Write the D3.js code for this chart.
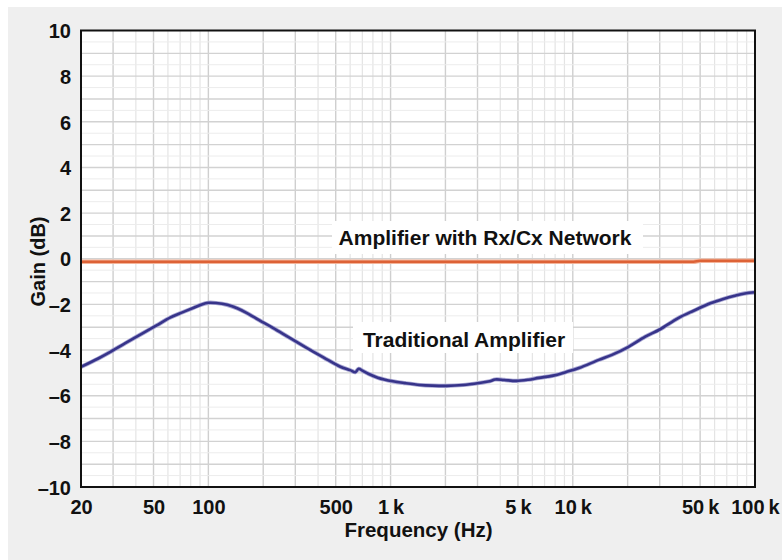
<!DOCTYPE html>
<html>
<head>
<meta charset="utf-8">
<script src="https://cdn.jsdelivr.net/npm/d3@7"></script>
<style>
  html, body { margin: 0; padding: 0; background: #ffffff; }
  svg { display: block; }
  text { font-family: "Liberation Sans", Arial, Helvetica, sans-serif; font-weight: bold; fill: #111; }
</style>
</head>
<body>
<svg id="chart" width="782" height="560"></svg>
<script>
// ---- data ----
const xTickValues = [20, 50, 100, 500, 1000, 5000, 10000, 50000, 100000];
const xTickLabels = ["20", "50", "100", "500", "1\u2009k", "5\u2009k", "10\u2009k", "50\u2009k", "100\u2009k"];
const yTickValues = [10, 8, 6, 4, 2, 0, -2, -4, -6, -8, -10];
const yTickLabels = ["10", "8", "6", "4", "2", "0", "\u20132", "\u20134", "\u20136", "\u20138", "\u201310"];

const tradFreq = [20, 25, 29, 35, 44, 52, 62, 72, 83, 92, 100, 110, 127, 145, 162, 190, 226, 280, 346, 430, 527, 600, 640, 668, 700, 760, 850, 1030, 1200, 1450, 1700, 2030, 2500, 3080, 3500, 3750, 4200, 4900, 5700, 6500, 7800, 9200, 10800, 13900, 16400, 20000, 25000, 30000, 37900, 46000, 57400, 67000, 77500, 88000, 100000];
const tradGain = [-4.74, -4.36, -4.08, -3.70, -3.25, -2.92, -2.57, -2.35, -2.15, -2.00, -1.93, -1.94, -2.02, -2.18, -2.37, -2.69, -3.03, -3.47, -3.90, -4.33, -4.72, -4.88, -4.97, -4.82, -4.90, -5.05, -5.21, -5.37, -5.45, -5.53, -5.56, -5.57, -5.53, -5.44, -5.37, -5.29, -5.31, -5.35, -5.30, -5.22, -5.12, -4.96, -4.79, -4.43, -4.21, -3.88, -3.41, -3.10, -2.60, -2.28, -1.94, -1.76, -1.62, -1.52, -1.47];

const rxFreq = [20, 1000, 10000, 46000, 50000, 100000];
const rxGain = [-0.13, -0.13, -0.13, -0.13, -0.09, -0.09];

const labelRx = "Amplifier with Rx/Cx Network";
const labelTrad = "Traditional Amplifier";

// ---- layout ----
const svg = d3.select("#chart");
const L = 81, R = 755, T = 30.5, B = 487;

svg.append("rect").attr("x", 8).attr("y", 7).attr("width", 774).attr("height", 553).attr("fill", "#efefef");
svg.append("rect").attr("x", L).attr("y", T).attr("width", R - L).attr("height", B - T).attr("fill", "#ffffff");

const x = d3.scaleLog().domain([20, 100000]).range([L, R]);
const y = d3.scaleLinear().domain([-10, 10]).range([B, T]);

// grid
const grid = svg.append("g");
const minorX = [], majorX = [];
for (let dec = 10; dec <= 100000; dec *= 10) {
  for (let m = 1; m <= 9; m++) {
    const v = dec * m;
    if (v <= 20 || v >= 100000) continue;
    if ([1, 2, 3, 5].includes(m)) majorX.push(v); else minorX.push(v);
  }
}
grid.selectAll("line.mx").data(minorX).join("line")
  .attr("x1", d => x(d)).attr("x2", d => x(d)).attr("y1", T).attr("y2", B)
  .attr("stroke", "#e4e4e4").attr("stroke-width", 1.2);
grid.selectAll("line.Mx").data(majorX).join("line")
  .attr("x1", d => x(d)).attr("x2", d => x(d)).attr("y1", T).attr("y2", B)
  .attr("stroke", "#cfcfcf").attr("stroke-width", 1.4);
const halfY = d3.range(-9.5, 10, 1);
grid.selectAll("line.hy").data(halfY).join("line")
  .attr("x1", L).attr("x2", R).attr("y1", d => y(d)).attr("y2", d => y(d))
  .attr("stroke", "#ececec").attr("stroke-width", 1);
const fullY = d3.range(-9, 10, 1);
grid.selectAll("line.fy").data(fullY).join("line")
  .attr("x1", L).attr("x2", R).attr("y1", d => y(d)).attr("y2", d => y(d))
  .attr("stroke", "#d2d2d2").attr("stroke-width", 1.4);

// label backgrounds
svg.append("rect").attr("x", 332).attr("y", 221).attr("width", 311).attr("height", 33).attr("fill", "#ffffff");
svg.append("rect").attr("x", 353).attr("y", 322).attr("width", 220).attr("height", 31).attr("fill", "#ffffff");

// lines
const lineGen = d3.line().x(d => x(d[0])).y(d => y(d[1])).curve(d3.curveCatmullRom.alpha(0.5));
const rxLine = d3.line().x(d => x(d[0])).y(d => y(d[1])).curve(d3.curveMonotoneX);

svg.append("path").datum(d3.zip(rxFreq, rxGain)).attr("d", rxLine)
  .attr("fill", "none").attr("stroke", "#f3b49a").attr("stroke-width", 4.5);
svg.append("path").datum(d3.zip(rxFreq, rxGain)).attr("d", rxLine)
  .attr("fill", "none").attr("stroke", "#dd6236").attr("stroke-width", 2.6);

svg.append("path").datum(d3.zip(tradFreq, tradGain)).attr("d", lineGen)
  .attr("fill", "none").attr("stroke", "#a9a7d3").attr("stroke-width", 4.2).attr("stroke-linejoin", "round");
svg.append("path").datum(d3.zip(tradFreq, tradGain)).attr("d", lineGen)
  .attr("fill", "none").attr("stroke", "#37348a").attr("stroke-width", 2.6).attr("stroke-linejoin", "round");

// frame
svg.append("rect").attr("x", L).attr("y", T).attr("width", R - L).attr("height", B - T)
  .attr("fill", "none").attr("stroke", "#111").attr("stroke-width", 2);

// axes labels
const xAxis = d3.axisBottom(x).tickValues(xTickValues).tickFormat((d, i) => xTickLabels[i]).tickSize(0).tickPadding(0);
const gx = svg.append("g").attr("transform", `translate(0,${B})`).call(xAxis);
gx.select(".domain").remove();
gx.selectAll("text").attr("y", 27).attr("dy", null).style("font-size", "20px")
  .style("font-family", '"Liberation Sans", Arial, sans-serif').style("font-weight", "bold").attr("fill", "#111");

const yAxis = d3.axisLeft(y).tickValues(yTickValues).tickFormat((d, i) => yTickLabels[i]).tickSize(0).tickPadding(10);
const gy = svg.append("g").attr("transform", `translate(${L},0)`).call(yAxis);
gy.select(".domain").remove();
gy.selectAll("text").attr("dy", "0.36em").style("font-size", "20px")
  .style("font-family", '"Liberation Sans", Arial, sans-serif').style("font-weight", "bold").attr("fill", "#111");

svg.append("text").attr("x", 418.5).attr("y", 537).attr("text-anchor", "middle")
  .style("font-size", "20.5px").text("Frequency (Hz)");
svg.append("text").attr("transform", "translate(44.5,261.5) rotate(-90)").attr("text-anchor", "middle")
  .style("font-size", "20px").text("Gain (dB)");

svg.append("text").attr("x", 485).attr("y", 245).attr("text-anchor", "middle")
  .style("font-size", "21px").text(labelRx);
svg.append("text").attr("x", 464).attr("y", 346.5).attr("text-anchor", "middle")
  .style("font-size", "21px").text(labelTrad);
</script>
</body>
</html>
